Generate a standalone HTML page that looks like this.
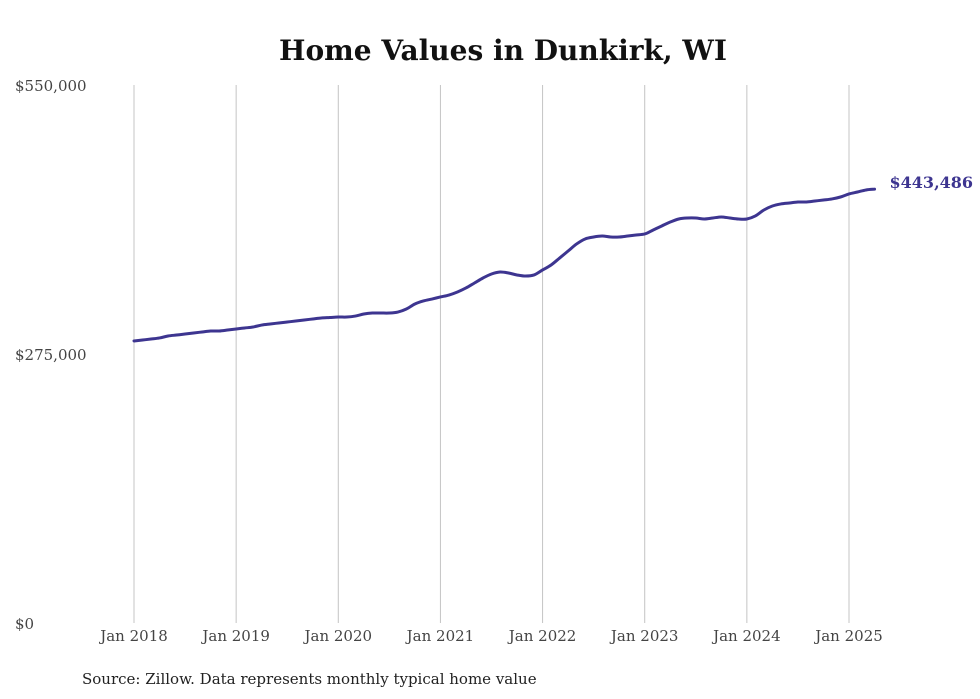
<!DOCTYPE html>
<html><head><meta charset="utf-8"><style>
html,body{margin:0;padding:0;background:#fff;}
svg{display:block;font-family:"DejaVu Serif","Liberation Serif",serif;}
</style></head><body>
<svg id="chart" width="980" height="699" viewBox="0 0 980 699">
<text x="503" y="60" text-anchor="middle" font-size="28" font-weight="bold" fill="#111">Home Values in Dunkirk, WI</text>
<g id="grid"></g>
<g id="yaxis"></g>
<g id="xaxis"></g>
<g id="series"></g>
<text x="82" y="684" font-size="15" fill="#222">Source: Zillow. Data represents monthly typical home value</text>
</svg>
<script>
const xTickLabels = ["Jan 2018","Jan 2019","Jan 2020","Jan 2021","Jan 2022","Jan 2023","Jan 2024","Jan 2025"];
const yTickValues = [0, 275000, 550000];
const yTickLabels = ["$0","$275,000","$550,000"];
const startYear = 2018;
// monthly values in thousands, Jan 2018 - Apr 2025
const values = [
288.3,289.3,290.3,291.4,293.4,294.4,295.4,296.5,297.5,298.5,298.5,299.5,
300.6,301.6,302.6,304.6,305.7,306.7,307.7,308.7,309.8,310.8,311.8,312.3,
312.8,312.8,313.8,315.9,316.9,316.9,316.9,317.9,321.0,326.1,329.2,331.2,
333.3,335.3,338.4,342.5,347.6,352.7,356.8,358.8,357.8,355.8,354.7,355.8,
360.9,366.0,373.1,380.3,387.5,392.6,394.6,395.6,394.6,394.6,395.6,396.7,
397.7,401.8,405.9,409.9,413.0,414.0,414.0,413.0,414.0,415.1,414.0,413.0,
413.0,416.1,422.2,426.3,428.4,429.4,430.4,430.4,431.4,432.4,433.5,435.5,
438.6,440.6,442.7,443.486];
const endLabel = "$443,486";

const NS="http://www.w3.org/2000/svg";
const x0=134, x1=849, yTop=85, yBot=623;
function xScale(m){return x0+m*(x1-x0)/84;}
function yScale(v){return yBot-v/550000*(yBot-yTop);}
function mk(tag,attrs,parent){const e=document.createElementNS(NS,tag);for(const k in attrs)e.setAttribute(k,attrs[k]);parent.appendChild(e);return e;}
const grid=document.getElementById('grid'),xa=document.getElementById('xaxis'),ya=document.getElementById('yaxis'),ser=document.getElementById('series');
xTickLabels.forEach((lab,i)=>{
  const x=xScale(i*12);
  const l=mk('line',{x1:x,x2:x,y1:yTop,y2:yBot,stroke:'#c4c4c4','stroke-width':1},grid);
  
  
  const t=mk('text',{x:x,y:641,'text-anchor':'middle','font-size':15,fill:'#444'},xa);
  t.textContent=lab;
  
  
});
yTickValues.forEach((v,i)=>{
  const t=mk('text',{x:15,y:yScale(v)+6,'font-size':15,fill:'#444'},ya);
  t.textContent=yTickLabels[i];
  
  
});
const pts=values.map((v,i)=>[xScale(i),yScale(v*1000)]);
let d='M'+pts[0][0]+','+pts[0][1];
for(let i=0;i<pts.length-1;i++){
  const p0=pts[Math.max(0,i-1)],p1=pts[i],p2=pts[i+1],p3=pts[Math.min(pts.length-1,i+2)];
  const c1x=p1[0]+(p2[0]-p0[0])/6,c1y=p1[1]+(p2[1]-p0[1])/6;
  const c2x=p2[0]-(p3[0]-p1[0])/6,c2y=p2[1]-(p3[1]-p1[1])/6;
  d+=' C'+c1x+','+c1y+' '+c2x+','+c2y+' '+p2[0]+','+p2[1];
}
const path=mk('path',{d:d,fill:'none',stroke:'#3d3590','stroke-width':3,'stroke-linecap':'round','stroke-linejoin':'round'},ser);


const last=pts[pts.length-1];
const et=mk('text',{x:last[0]+15,y:last[1]-1,'font-size':16,'font-weight':'bold',fill:'#3d3590'},ser);
et.textContent=endLabel;


</script>
</body></html>
